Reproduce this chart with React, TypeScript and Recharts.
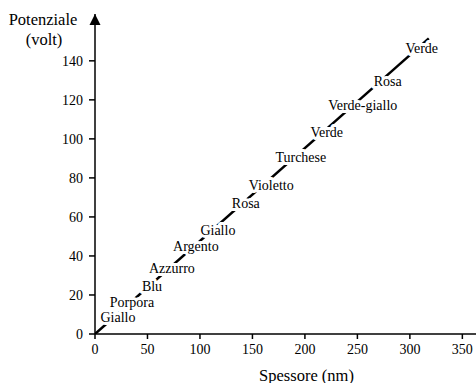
import React from "react";
import {
  ComposedChart, Line, Scatter, XAxis, YAxis, ReferenceDot
} from "recharts";

const lineX = [0, 318];
const lineY = [0, 151.5];
const colorNames = [
  "Giallo", "Porpora", "Blu", "Azzurro", "Argento", "Giallo", "Rosa",
  "Violetto", "Turchese", "Verde", "Verde-giallo", "Rosa", "Verde",
];
const labelX = [21.9, 35.2, 54.3, 73.3, 96.1, 117.1, 143.7, 167.9, 196.1, 220.8, 255.1, 278.9, 311.3];
const labelY = [8.4, 16.0, 24.2, 33.5, 44.7, 52.9, 66.8, 76.0, 90.4, 103.1, 117.0, 129.3, 146.2];
const xTicks = [0, 50, 100, 150, 200, 250, 300, 350];
const yTicks = [0, 20, 40, 60, 80, 100, 120, 140];

const lineData = lineX.map((x, i) => ({ x, y: lineY[i] }));
const labelData = colorNames.map((name, i) => ({ x: labelX[i], y: labelY[i], name }));

const font = "Liberation Serif";
const txt = { fontFamily: font, fontSize: 14 };
const title = { fontFamily: font, fontSize: 16.5 };

function ColorLabel(props: any) {
  const { cx, cy, payload } = props;
  return (
    <text
      x={cx}
      y={cy}
      textAnchor="middle"
      dominantBaseline="central"
      style={txt}
      fill="#000"
      stroke="#fff"
      strokeWidth={6}
      paintOrder="stroke"
      strokeLinejoin="round"
    >
      {payload.name}
    </text>
  );
}

function Arrow(props: any) {
  const { cx, cy } = props;
  return <polygon points={`${cx},${cy} ${cx - 5.5},${cy + 11} ${cx + 5.5},${cy + 11}`} fill="#000" />;
}

function YTitle() {
  return (
    <g fill="#000">
      <text x={43} y={19} textAnchor="middle" dominantBaseline="central" style={title}>Potenziale</text>
      <text x={44} y={39} textAnchor="middle" dominantBaseline="central" style={title}>(volt)</text>
    </g>
  );
}

function XTitle(props: any) {
  const { viewBox } = props;
  const cx = viewBox.x + viewBox.width / 2 + 21;
  return (
    <text x={cx} y={375} textAnchor="middle" dominantBaseline="central" style={title} fill="#000">
      Spessore (nm)
    </text>
  );
}

export default function App() {
  return (
    <div style={{ position: "absolute", left: 0, top: 0, background: "#fff", fontFamily: font }}>
      <ComposedChart
        width={476}
        height={383}
        margin={{ top: 14, right: 0, bottom: 0, left: 0 }}
        style={{ fontFamily: font }}
      >
        <XAxis
          type="number"
          dataKey="x"
          domain={[0, 363]}
          ticks={xTicks}
          allowDataOverflow
          height={49}
          tickSize={5}
          tickMargin={5}
          stroke="#000"
          strokeWidth={1.5}
          tick={{ fill: "#000", style: txt, fontFamily: font, fontSize: 14 }}
          label={{ content: XTitle }}
        />
        <YAxis
          type="number"
          dataKey="y"
          domain={[0, 164]}
          ticks={yTicks}
          allowDataOverflow
          width={95}
          tickSize={6}
          tickMargin={6}
          stroke="#000"
          strokeWidth={1.5}
          tick={{ fill: "#000", style: txt, fontFamily: font, fontSize: 14 }}
          label={{ content: YTitle }}
        />
        <Line
          data={lineData}
          dataKey="y"
          type="linear"
          stroke="#000"
          strokeWidth={2.5}
          dot={false}
          isAnimationActive={false}
        />
        <Scatter
          data={labelData}
          dataKey="y"
          shape={ColorLabel}
          isAnimationActive={false}
        />
        <ReferenceDot x={0} y={164} ifOverflow="visible" shape={Arrow} />
      </ComposedChart>
    </div>
  );
}
